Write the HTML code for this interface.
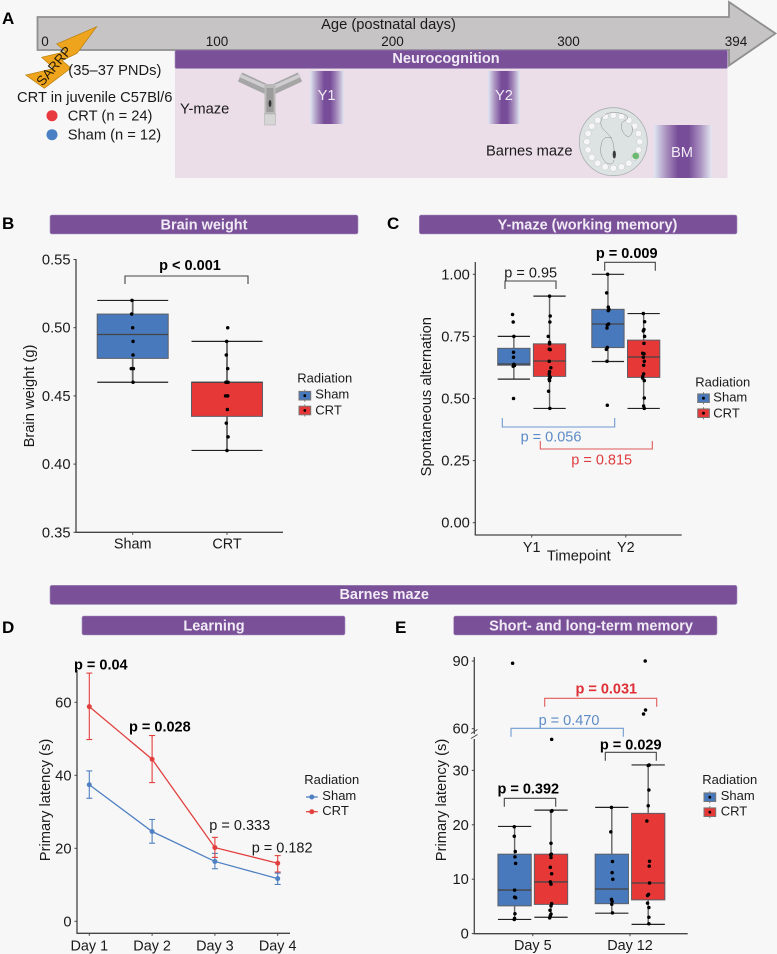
<!DOCTYPE html>
<html lang="en">
<head>
<meta charset="utf-8">
<title>CRT neurocognition figure</title>
<style>
html,body{margin:0;padding:0;background:#f7f7f7;width:777px;height:954px;overflow:hidden}
svg{display:block;font-family:"Liberation Sans",Arial,sans-serif}
text{fill:#1a1a1a;font-size:14.7px}
.title{fill:#f1ebf5;font-weight:bold;font-size:14.5px;text-anchor:middle}
.letter{fill:#000;font-weight:bold;font-size:17px}
.bar{fill:#7a5199;stroke:#a58fbc;stroke-width:.6}
.b{font-weight:bold;fill:#000;font-size:14.5px}
.m{text-anchor:middle}
.leg{font-size:13px}
.br{fill:none;stroke:#444;stroke-width:1.1}
</style>
</head>
<body>
<svg id="fig" width="777" height="954" viewBox="0 0 777 954" xmlns="http://www.w3.org/2000/svg">
<defs>
<linearGradient id="band" x1="0" x2="1" y1="0" y2="0">
<stop offset="0" stop-color="#dfe7f2"/><stop offset=".22" stop-color="#a88fbe"/><stop offset=".42" stop-color="#774c98"/><stop offset=".6" stop-color="#774c98"/><stop offset=".8" stop-color="#a88fbe"/><stop offset="1" stop-color="#e2e6f1"/>
</linearGradient>
</defs>
<rect width="777" height="954" fill="#f7f7f7"/>

<g id="panel-a">
<text class="letter" x="2" y="24">A</text>
<polygon points="37.5,17 729,17 729,2 775.5,33.5 729,65.5 729,50 37.5,50" fill="#c6c4c4" stroke="#8f8f8f" stroke-width="1.8"/>
<text class="m" x="388.5" y="29">Age (postnatal days)</text>
<text class="m" x="45" y="46" style="font-size:13.5px">0</text>
<text class="m" x="217" y="46" style="font-size:13.5px">100</text>
<text class="m" x="392.5" y="46" style="font-size:13.5px">200</text>
<text class="m" x="568.5" y="46" style="font-size:13.5px">300</text>
<text class="m" x="736" y="46" style="font-size:13.5px">394</text>
<rect x="175" y="68" width="552.5" height="110" fill="#ebdee9"/>
<rect class="bar" x="175" y="50" width="552.5" height="18.5" rx="1.5"/>
<text class="title" x="446" y="63">Neurocognition</text>
<polygon fill="#efa41d" stroke="#b8810f" stroke-width=".7" points="96.7,26.7 56.7,44 66,51.5 41.7,57.3 54,68.5 25.7,75 44.3,88.3 71,68 62,60.5 77,53.3"/>
<text transform="translate(57.5,69) rotate(-50)" class="m" style="font-size:13.5px;fill:#241a04">SARRP</text>
<text x="68.3" y="75">(35–37 PNDs)</text>
<text x="17" y="102">CRT in juvenile C57Bl/6</text>
<circle cx="52" cy="115.7" r="5.5" fill="#e8393f"/>
<text x="67.7" y="120.7">CRT (n = 24)</text>
<circle cx="52" cy="134.7" r="5.5" fill="#4a80c4"/>
<text x="67.7" y="139.3">Sham (n = 12)</text>
<text x="180" y="113.3">Y-maze</text>
<g>
<line x1="240" y1="77" x2="268" y2="90" stroke="#a6a6a6" stroke-width="10"/>
<line x1="300" y1="77" x2="272" y2="90" stroke="#a6a6a6" stroke-width="10"/>
<line x1="240" y1="75.5" x2="268" y2="88" stroke="#cfcdcf" stroke-width="3.5"/>
<line x1="300" y1="75.5" x2="272" y2="88" stroke="#cfcdcf" stroke-width="3.5"/>
<rect x="264.5" y="84" width="11" height="41" fill="#b9b9b9"/>
<rect x="266.5" y="88" width="7" height="24" fill="#9c9c9c"/>
<rect x="264.5" y="114" width="11" height="11" fill="#d6d6d6" stroke="#aaa" stroke-width=".5"/>
<ellipse cx="270" cy="103.5" rx="1.4" ry="3.5" fill="#333"/>
</g>
<rect x="310" y="71" width="34" height="53" fill="url(#band)"/>
<text class="m" x="326.6" y="100" style="fill:#f1ebf5">Y1</text>
<rect x="488" y="71" width="32" height="53" fill="url(#band)"/>
<text class="m" x="504" y="100" style="fill:#f1ebf5">Y2</text>
<text x="486" y="155.7">Barnes maze</text>
<g id="barnes">
<circle cx="613.3" cy="141.7" r="34" fill="#dde2e2" stroke="#a9aeae" stroke-width=".8"/>
<g id="barnes-holes"></g>
<path d="M614 150 C614 130 596 132 602 118 C606 110 622 112 627 116 C631 122 618 118 622 130 C626 140 634 138 632 126 M614 160 C612 170 598 160 601 146 C602 138 606 136 612 138" fill="none" stroke="#8a8a8a" stroke-width=".5"/>
<circle cx="635.7" cy="156" r="3.4" fill="#6dba72"/>
<ellipse cx="614.3" cy="154.5" rx="1.6" ry="4" fill="#3b3b3b"/>
</g>
<rect x="654" y="125" width="57.5" height="53" fill="url(#band)"/>
<text class="m" x="682" y="157" style="fill:#f1ebf5">BM</text>
</g>

<g>
<text class="letter" x="2" y="229">B</text>
<rect class="bar" x="50" y="215" width="308" height="19" rx="2"/>
<text class="title" x="204" y="229.5">Brain weight</text>
<g id="chart-b"></g>
<path class="br" d="M125 284V276H248V284"/>
<text class="b m" x="190" y="270">p &lt; 0.001</text>
<text class="m" transform="translate(34,396) rotate(-90)">Brain weight (g)</text>
</g>

<g>
<text class="letter" x="387" y="229">C</text>
<rect class="bar" x="419.3" y="215" width="317.7" height="19" rx="2"/>
<text class="title" x="587.5" y="229.5">Y-maze (working memory)</text>
<g id="chart-c"></g>
<path class="br" d="M505 289V281H556V289"/>
<text class="m" x="530.7" y="277.7" style="font-size:14.5px">p = 0.95</text>
<path class="br" d="M604.7 270.7V262.3H655.3V270.7"/>
<text class="b m" x="626.7" y="258">p = 0.009</text>
<path class="br" style="stroke:#6f9ad0" d="M502.3 418V427H614.7V418"/>
<text class="m" x="551" y="441.7" style="fill:#5c8bc6;font-size:14.5px">p = 0.056</text>
<path class="br" style="stroke:#e25a5a" d="M540.3 441V449H652.3V441"/>
<text class="m" x="601.7" y="464.7" style="fill:#df3b3f;font-size:14.5px">p = 0.815</text>
<text class="m" transform="translate(431,396.7) rotate(-90)">Spontaneous alternation</text>
<text class="m" x="578.8" y="560.7">Timepoint</text>
</g>

<rect class="bar" x="50" y="585.3" width="687" height="19.2" rx="2"/>
<text class="title" x="384.2" y="598.9">Barnes maze</text>

<g>
<text class="letter" x="2" y="633">D</text>
<rect class="bar" x="82" y="616" width="263" height="19" rx="2"/>
<text class="title" x="214" y="630.5">Learning</text>
<g id="chart-d"></g>
<text class="b" x="74" y="669.3">p = 0.04</text>
<text class="b" x="129" y="731.3">p = 0.028</text>
<text x="209.3" y="830" style="font-size:14.5px">p = 0.333</text>
<text x="251.7" y="852.7" style="font-size:14.5px">p = 0.182</text>
<text class="m" transform="translate(50,800) rotate(-90)">Primary latency (s)</text>
</g>

<g>
<text class="letter" x="395" y="633">E</text>
<rect class="bar" x="453.7" y="616" width="263.3" height="19" rx="2"/>
<text class="title" x="591" y="630.5">Short- and long-term memory</text>
<g id="chart-e"></g>
<path class="br" d="M504.3 806.7V798.3H555.7V806.7"/>
<text class="b m" x="528.3" y="793.3">p = 0.392</text>
<path class="br" d="M605.3 760.7V752.3H656.3V760.7"/>
<text class="b m" x="630.7" y="749.3">p = 0.029</text>
<path class="br" style="stroke:#6f9ad0" d="M511 736.7V728.3H623.3V736.7"/>
<text class="m" x="569" y="725" style="fill:#5c8bc6;font-size:14.5px">p = 0.470</text>
<path class="br" style="stroke:#e25a5a" d="M544.7 706.7V698.3H656.7V706.7"/>
<text class="b m" x="606.3" y="693.3" style="fill:#df3036">p = 0.031</text>
<text class="m" transform="translate(446,800) rotate(-90)">Primary latency (s)</text>
</g>
</svg>

<script>
/* Panel B data: box = [lower whisker, q1, median, q3, upper whisker] */
const bCategories = ['Sham', 'CRT'];
const bTicks = ['0.35', '0.40', '0.45', '0.50', '0.55'];
const bShamBox = [0.46, 0.4775, 0.495, 0.51, 0.52];
const bCrtBox = [0.41, 0.435, 0.46, 0.46, 0.49];
const bShamPoints = [0.52, 0.51, 0.50, 0.49, 0.48, 0.47, 0.47, 0.46];
const bShamJitter = [-1, -1.5, 0, 0.5, 0.5, -2, 1, 0.5];
const bCrtPoints = [0.50, 0.49, 0.48, 0.47, 0.46, 0.46, 0.46, 0.45, 0.45, 0.44, 0.43, 0.42, 0.41];
const bCrtJitter = [1, -0.5, -1, 1, -1.5, 1.5, -0.5, -2, 1, 0.5, -1, 1.5, 0];

/* Panel C data */
const cCategories = ['Y1', 'Y2'];
const cTicks = ['0.00', '0.25', '0.50', '0.75', '1.00'];
const cShamBoxes = [[0.578, 0.634, 0.639, 0.702, 0.75], [0.649, 0.705, 0.80, 0.859, 1.0]];
const cCrtBoxes = [[0.46, 0.589, 0.651, 0.72, 0.912], [0.46, 0.585, 0.667, 0.735, 0.842]];
const cShamY1 = [0.838, 0.808, 0.75, 0.686, 0.666, 0.638, 0.633, 0.63, 0.5];
const cShamY1Jitter = [-4, -2, 0, -1, -1, 0, 2, -2, -1];
const cCrtY1 = [0.912, 0.832, 0.808, 0.75, 0.726, 0.72, 0.699, 0.697, 0.65, 0.624, 0.608, 0.599, 0.59, 0.585, 0.578, 0.572, 0.529, 0.46];
const cCrtY1Jitter = [0, 2, 1, -4, 0, 0, -1, 2, -1, 4, 0, -1, 0, 2, -1, 0, -3, 1];
const cShamY2 = [1.0, 0.925, 0.868, 0.859, 0.854, 0.8, 0.796, 0.784, 0.706, 0.698, 0.65, 0.473];
const cShamY2Jitter = [-1, -4, 1, 3, 1, 2, -2, -3, -2, -5, -3, -2];
const cCrtY2 = [0.842, 0.809, 0.778, 0.772, 0.75, 0.722, 0.682, 0.68, 0.666, 0.65, 0.634, 0.599, 0.588, 0.582, 0.572, 0.502, 0.47, 0.46];
const cCrtY2Jitter = [-1, 3, 1, -1, 3, 1, -3, 1, -1, 2, 0, 0, -3, -3, 2, 2, 0, 2];

/* Panel D data */
const dDays = ['Day 1', 'Day 2', 'Day 3', 'Day 4'];
const dTicks = [0, 20, 40, 60];
const dSham = [37.4, 24.6, 16.4, 11.7];
const dShamHigh = [41.2, 27.9, 18.6, 13.2];
const dShamLow = [33.7, 21.4, 14.4, 10.1];
const dCrt = [58.8, 44.4, 20.2, 15.9];
const dCrtHigh = [68, 50.9, 23, 18];
const dCrtLow = [49.8, 38, 17.5, 13.5];

/* Panel E data */
const eDays = ['Day 5', 'Day 12'];
const eTicks = [0, 10, 20, 30, 60, 90];
const eShamBoxes = [[2.6, 5.1, 8.0, 14.6, 19.7], [3.75, 5.5, 8.2, 14.6, 23.2]];
const eCrtBoxes = [[3.0, 5.37, 9.5, 14.6, 22.7], [1.7, 6.2, 9.3, 22.1, 31]];
const eShamD5 = [19.65, 17.9, 15.1, 14.1, 12.9, 8.0, 6.7, 6.6, 3.65, 2.8, 2.6, 89];
const eShamD5Jitter = [-1, -1, 2, 1, 3, 0, 0, 3, 1, 0, -1, -6];
const eCrtD5 = [22.6, 22.5, 16.6, 14.6, 14.5, 14, 12.2, 11, 9.5, 9.1, 5.5, 5.1, 4.3, 3.6, 3.3, 2.9, 35.7];
const eCrtD5Jitter = [3, 1, 0, 1, -1, 0, -2, 2, -2, 0, 2, 0, -3, 0, -2, -4, 2];
const eShamD12 = [23.2, 18.7, 13.25, 11.2, 10, 6.3, 5.9, 5.4, 3.8];
const eShamD12Jitter = [-1, -3, 2, 1, 3, -1, 1, 0, 2];
const eCrtD12 = [31, 30.9, 26.4, 23.5, 20.7, 13.3, 12.4, 9.3, 7.2, 7, 5.6, 4.8, 3.0, 1.8, 90, 68.3, 66.5];
const eCrtD12Jitter = [3, 0, 2, 0, -4, 4, 3, 4, 1, -2, -2, 2, 2, 2, -9, -8, -14];

const seriesNames = ['Sham', 'CRT'];

const NS = 'http://www.w3.org/2000/svg';
const BLUE = '#4879bc';
const RED = '#e73838';
const LBLUE = '#4f80c2';
const LRED = '#e2403f';

function node(parent, tag, props) {
  const el = document.createElementNS(NS, tag);
  for (const k in props) el.setAttribute(k, props[k]);
  parent.appendChild(el);
  return el;
}

function mark(parent, tag, props, name) {
  const el = node(parent, tag, props);
  
  
  return el;
}

function label(parent, x, y, str, anchor, size, name) {
  const el = node(parent, 'text', { x: x, y: y, 'text-anchor': anchor, style: 'font-size:' + size + 'px' });
  
  
  el.textContent = str;
  return el;
}

function axisLine(parent, x1, y1, x2, y2, name) {
  return mark(parent, 'line', { x1: x1, y1: y1, x2: x2, y2: y2, stroke: '#444', 'stroke-width': 1.3 }, name);
}

function yAxisTicks(parent, ticks, yScale, axisX, name) {
  ticks.forEach(function (t) {
    const y = yScale(parseFloat(t));
    mark(parent, 'line', { x1: axisX - 2.5, y1: y, x2: axisX, y2: y, stroke: '#444', 'stroke-width': 1 }, name + '-tick-mark');
    label(parent, axisX - 5.5, y + 5, String(t), 'end', 14.7, name + '-tick-label');
  });
}

function xAxisTicks(parent, cats, xScale, axisY, baseline, name) {
  cats.forEach(function (c, i) {
    const x = xScale(i);
    mark(parent, 'line', { x1: x, y1: axisY, x2: x, y2: axisY + 2.5, stroke: '#444', 'stroke-width': 1 }, name + '-tick-mark');
    label(parent, x, baseline, c, 'middle', 14.4, name + '-tick-label');
  });
}

function boxplot(parent, cx, boxW, stats, color, yScale, whiskerWidth, name) {
  const lo = stats[0], q1 = stats[1], med = stats[2], q3 = stats[3], hi = stats[4];
  const g = mark(parent, 'g', {}, name);
  const l = cx - boxW / 2;
  const r = cx + boxW / 2;
  mark(g, 'line', { x1: cx, y1: yScale(hi), x2: cx, y2: yScale(q3), stroke: '#666', 'stroke-width': whiskerWidth }, name + '-upper-whisker');
  mark(g, 'line', { x1: cx, y1: yScale(q1), x2: cx, y2: yScale(lo), stroke: '#666', 'stroke-width': whiskerWidth }, name + '-lower-whisker');
  mark(g, 'line', { x1: l, y1: yScale(hi), x2: r, y2: yScale(hi), stroke: '#222', 'stroke-width': 1.2 }, name + '-upper-cap');
  mark(g, 'line', { x1: l, y1: yScale(lo), x2: r, y2: yScale(lo), stroke: '#222', 'stroke-width': 1.2 }, name + '-lower-cap');
  mark(g, 'rect', { x: l, y: yScale(q3), width: boxW, height: yScale(q1) - yScale(q3), fill: color, stroke: '#5b5f66', 'stroke-width': 1 }, name + '-box');
  mark(g, 'line', { x1: l, y1: yScale(med), x2: r, y2: yScale(med), stroke: '#444', 'stroke-width': 1.3 }, name + '-median');
}

function dots(parent, cx, boxW, values, jitter, yScale, name) {
  values.forEach(function (v, i) {
    mark(parent, 'circle', { cx: cx + jitter[i] * boxW / 100, cy: yScale(v), r: 1.75, fill: '#000' }, name + '-point');
  });
}

function boxLegend(parent, titleX, titleY, keyX, keyYs, textX, textYs, name) {
  label(parent, titleX, titleY, 'Radiation', 'start', 13, name + '-title');
  seriesNames.forEach(function (s, i) {
    const color = i === 0 ? BLUE : RED;
    const y = keyYs[i];
    const g = mark(parent, 'g', {}, 'legend-entry-' + s.toLowerCase());
    mark(g, 'line', { x1: keyX + 5.8, y1: y - 6, x2: keyX + 5.8, y2: y + 6, stroke: '#777', 'stroke-width': 1 }, 'legend-whisker');
    mark(g, 'rect', { x: keyX, y: y - 4.3, width: 11.7, height: 8.6, fill: color, stroke: '#777', 'stroke-width': 1 }, 'legend-key');
    mark(g, 'circle', { cx: keyX + 5.8, cy: y, r: 1.4, fill: '#000' }, 'legend-dot');
    label(g, textX, textYs[i], s, 'start', 13, 'legend-label');
  });
}

/* ---------- Barnes icon holes ---------- */
const barnesHoles = document.getElementById('barnes-holes');
for (let i = 0; i < 20; i++) {
  const a = i * Math.PI / 10;
  mark(barnesHoles, 'circle', { cx: 613.3 + 26.5 * Math.cos(a), cy: 141.7 + 26.5 * Math.sin(a), r: 3.2, fill: '#f6f6f6', stroke: '#bcc0c0', 'stroke-width': 0.4 }, 'barnes-hole');
}

/* ---------- Panel B ---------- */
(function () {
  const g = document.getElementById('chart-b');
  const yB = function (v) { return 532.3 - (v - 0.35) * 1364; };
  const xB = function (i) { return 132.7 + i * 94.3; };
  axisLine(g, 76, 259, 76, 532.3, 'brain-weight-y-axis');
  axisLine(g, 75.4, 532.3, 283, 532.3, 'brain-weight-x-axis');
  yAxisTicks(g, bTicks, yB, 76, 'brain-weight-y');
  xAxisTicks(g, bCategories, xB, 532.3, 548.7, 'brain-weight-x');
  boxplot(g, xB(0), 71, bShamBox, BLUE, yB, 1.8, 'sham-boxplot');
  boxplot(g, xB(1), 71, bCrtBox, RED, yB, 1.8, 'crt-boxplot');
  dots(g, xB(0), 71, bShamPoints, bShamJitter, yB, 'sham');
  dots(g, xB(1), 71, bCrtPoints, bCrtJitter, yB, 'crt');
  boxLegend(g, 297.3, 382.7, 299, [395.7, 410.5], 315.3, [398.7, 414.3], 'brain-weight-legend');
})();

/* ---------- Panel C ---------- */
(function () {
  const g = document.getElementById('chart-c');
  const yC = function (v) { return 522.7 - v * 248.4; };
  const xC = function (i) { return 531.7 + i * 94.1; };
  axisLine(g, 475.3, 262, 475.3, 535, 'y-maze-y-axis');
  axisLine(g, 474.7, 535, 681.7, 535, 'y-maze-x-axis');
  yAxisTicks(g, cTicks, yC, 475.3, 'y-maze-y');
  xAxisTicks(g, cCategories, xC, 535, 552, 'y-maze-x');
  const off = 17.85;
  const w = 32.3;
  boxplot(g, xC(0) - off, w, cShamBoxes[0], BLUE, yC, 1.4, 'sham-y1-boxplot');
  boxplot(g, xC(0) + off, w, cCrtBoxes[0], RED, yC, 1.4, 'crt-y1-boxplot');
  boxplot(g, xC(1) - off, w, cShamBoxes[1], BLUE, yC, 1.4, 'sham-y2-boxplot');
  boxplot(g, xC(1) + off, w, cCrtBoxes[1], RED, yC, 1.4, 'crt-y2-boxplot');
  dots(g, xC(0) - off, w, cShamY1, cShamY1Jitter, yC, 'sham-y1');
  dots(g, xC(0) + off, w, cCrtY1, cCrtY1Jitter, yC, 'crt-y1');
  dots(g, xC(1) - off, w, cShamY2, cShamY2Jitter, yC, 'sham-y2');
  dots(g, xC(1) + off, w, cCrtY2, cCrtY2Jitter, yC, 'crt-y2');
  boxLegend(g, 695.3, 386.7, 697.7, [398.2, 413.2], 713.3, [401.7, 417.3], 'y-maze-legend');
})();

/* ---------- Panel D ---------- */
(function () {
  const g = document.getElementById('chart-d');
  const yD = function (v) { return 921.3 - v * 3.65; };
  const xD = function (i) { return 89.3 + i * 62.8; };
  axisLine(g, 77, 670, 77, 933.3, 'learning-y-axis');
  axisLine(g, 76.4, 933.3, 290, 933.3, 'learning-x-axis');
  yAxisTicks(g, dTicks, yD, 77, 'learning-y');
  xAxisTicks(g, dDays, xD, 933.3, 950.7, 'learning-x');

  function series(vals, hi, lo, color, name) {
    const pts = vals.map(function (v, i) { return xD(i) + ',' + yD(v); }).join(' ');
    mark(g, 'polyline', { points: pts, fill: 'none', stroke: color, 'stroke-width': 1.3 }, name + '-line');
    vals.forEach(function (v, i) {
      const x = xD(i);
      mark(g, 'line', { x1: x, y1: yD(hi[i]), x2: x, y2: yD(lo[i]), stroke: color, 'stroke-width': 1.1 }, name + '-error-bar');
      mark(g, 'line', { x1: x - 3, y1: yD(hi[i]), x2: x + 3, y2: yD(hi[i]), stroke: color, 'stroke-width': 1.1 }, name + '-error-cap-high');
      mark(g, 'line', { x1: x - 3, y1: yD(lo[i]), x2: x + 3, y2: yD(lo[i]), stroke: color, 'stroke-width': 1.1 }, name + '-error-cap-low');
      mark(g, 'circle', { cx: x, cy: yD(v), r: 2.5, fill: color }, name + '-point');
    });
  }
  series(dSham, dShamHigh, dShamLow, LBLUE, 'sham');
  series(dCrt, dCrtHigh, dCrtLow, LRED, 'crt');

  label(g, 304.3, 784, 'Radiation', 'start', 13, 'learning-legend-title');
  seriesNames.forEach(function (s, i) {
    const color = i === 0 ? LBLUE : LRED;
    const y = i === 0 ? 797 : 811.7;
    const e = mark(g, 'g', {}, 'legend-entry-' + s.toLowerCase());
    mark(e, 'line', { x1: 306, y1: y, x2: 317.7, y2: y, stroke: color, 'stroke-width': 1.3 }, 'legend-line');
    mark(e, 'circle', { cx: 311.8, cy: y, r: 2.5, fill: color }, 'legend-marker');
    label(e, 322.3, i === 0 ? 800 : 815, s, 'start', 13, 'legend-label');
  });
})();

/* ---------- Panel E ---------- */
(function () {
  const g = document.getElementById('chart-e');
  const yE = function (v) {
    return v <= 37 ? 933.6 - v * 5.44 : 728.7 - (v - 60) * 2.256;
  };
  const xE = function (i) { return 532.8 + i * 97.2; };
  axisLine(g, 474.3, 739, 474.3, 933.7, 'memory-lower-y-axis');
  axisLine(g, 474.3, 657, 474.3, 734, 'memory-upper-y-axis');
  mark(g, 'line', { x1: 471, y1: 733.5, x2: 477.5, y2: 729.5, stroke: '#444', 'stroke-width': 1 }, 'axis-break-upper');
  mark(g, 'line', { x1: 471, y1: 738.5, x2: 477.5, y2: 734.5, stroke: '#444', 'stroke-width': 1 }, 'axis-break-lower');
  axisLine(g, 473.7, 933.7, 687.7, 933.7, 'memory-x-axis');
  yAxisTicks(g, eTicks, yE, 474.3, 'memory-y');
  xAxisTicks(g, eDays, xE, 933.7, 950, 'memory-x');
  const off = 18.2;
  const w = 33.3;
  boxplot(g, xE(0) - off, w, eShamBoxes[0], BLUE, yE, 1.4, 'sham-day5-boxplot');
  boxplot(g, xE(0) + off, w, eCrtBoxes[0], RED, yE, 1.4, 'crt-day5-boxplot');
  boxplot(g, xE(1) - off, w, eShamBoxes[1], BLUE, yE, 1.4, 'sham-day12-boxplot');
  boxplot(g, xE(1) + off, w, eCrtBoxes[1], RED, yE, 1.4, 'crt-day12-boxplot');
  dots(g, xE(0) - off, w, eShamD5, eShamD5Jitter, yE, 'sham-day5');
  dots(g, xE(0) + off, w, eCrtD5, eCrtD5Jitter, yE, 'crt-day5');
  dots(g, xE(1) - off, w, eShamD12, eShamD12Jitter, yE, 'sham-day12');
  dots(g, xE(1) + off, w, eCrtD12, eCrtD12Jitter, yE, 'crt-day12');
  boxLegend(g, 702.3, 784, 704, [797.2, 812.2], 720.7, [800, 815.3], 'memory-legend');
})();
</script>
</body>
</html>
